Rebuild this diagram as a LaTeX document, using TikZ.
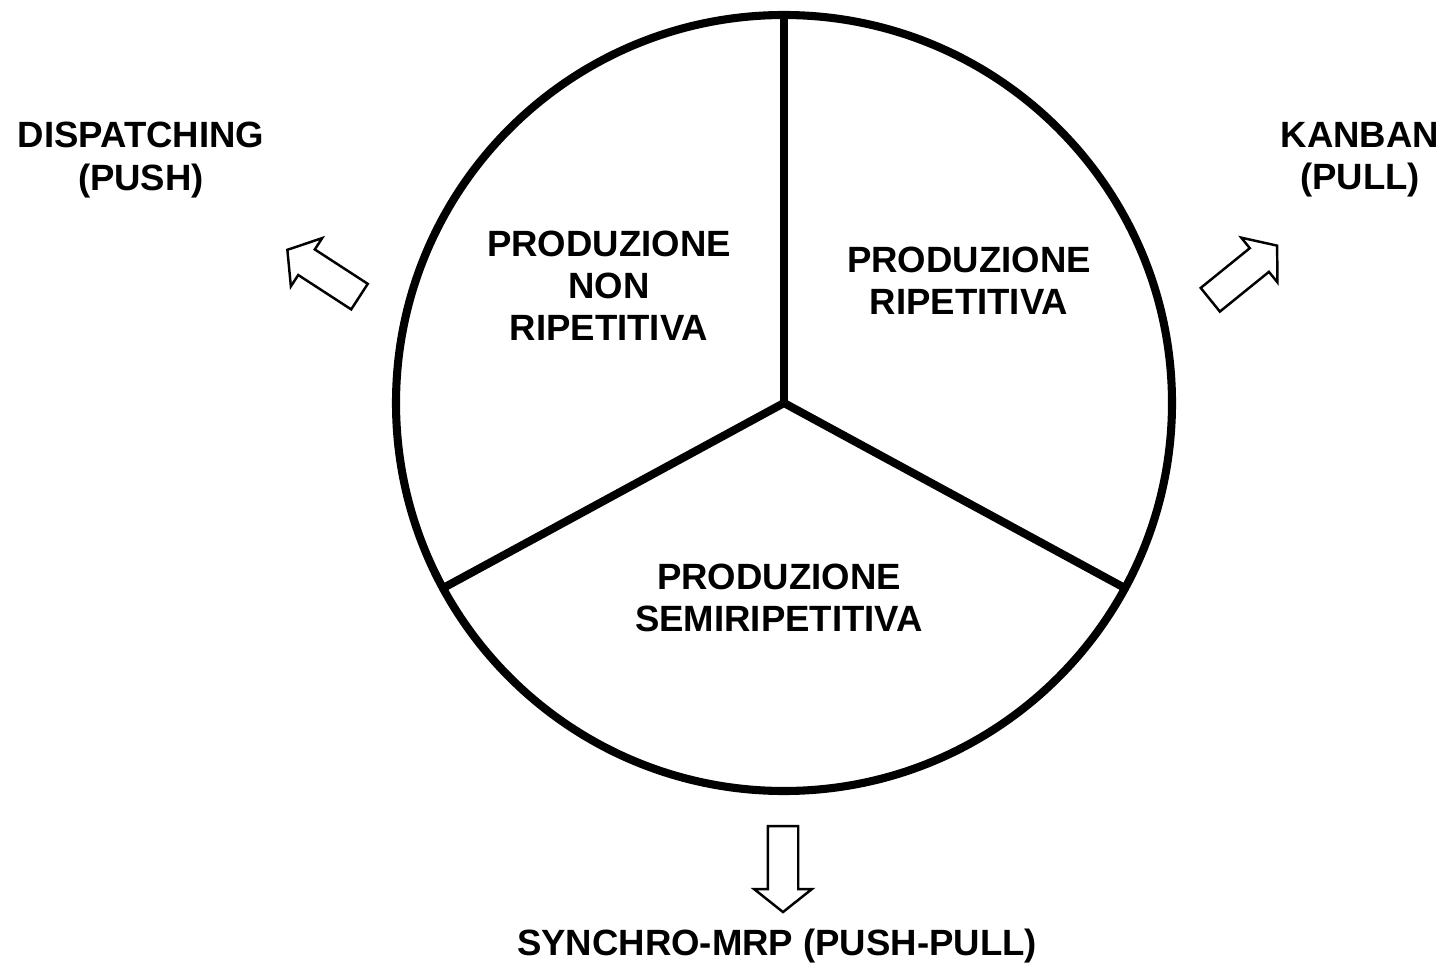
\documentclass[tikz,border=0pt]{standalone}
\usepackage{fontspec}
\setmainfont{Liberation Sans}
\usetikzlibrary{arrows.meta,positioning,calc,shapes.arrows}

\tikzset{
  lbl/.style={font=\bfseries\fontsize{10.4}{12}\selectfont, align=center, inner sep=0pt},
  blockarrow/.style={single arrow, draw, line width=0.7pt, inner xsep=0pt, inner ysep=0.14cm,
    minimum height=0.86cm, single arrow head extend=0.135cm,
    single arrow tip angle=103}
}

\begin{document}
\begin{tikzpicture}[scale=1.0,>=Stealth]
  \useasboundingbox (0,0) rectangle (14.43,-9.76);
  % circle and its three sectors
  \coordinate (c) at (7.84,-4.03);
  \draw[line width=2.3pt] (c) circle (3.88);
  \coordinate (s1) at ($(c)+(90:3.88)$);
  \coordinate (s2) at ($(c)+(208.5:3.88)$);
  \coordinate (s3) at ($(c)+(331.5:3.88)$);
  \foreach \s in {s1,s2,s3}{
    \draw[line width=2.3pt, line cap=round] (c) -- (\s);
  }
  \node[lbl] (nonrip) at (6.09,-2.86) {PRODUZIONE\\NON\\RIPETITIVA};
  \node[lbl] (rip) at (9.69,-2.81) {PRODUZIONE\\RIPETITIVA};
  \node[lbl] (semi) at (7.79,-5.98) {PRODUZIONE\\SEMIRIPETITIVA};
  % the three ways out
  \node[blockarrow, rotate=147] (arrpush) at (3.285,-2.765) {};
  \node[blockarrow, rotate=39] (arrpull) at (12.39,-2.765) {};
  \node[blockarrow, rotate=-90] (arrsync) at (7.83,-8.63) {};
  \node[lbl] (push) at (1.41,-1.60) {DISPATCHING\\(PUSH)};
  \node[lbl] (pull) at (13.60,-1.60) {KANBAN\\(PULL)};
  \node[lbl] (sync) at (7.77,-9.46) {SYNCHRO-MRP (PUSH-PULL)};
\end{tikzpicture}
\end{document}
